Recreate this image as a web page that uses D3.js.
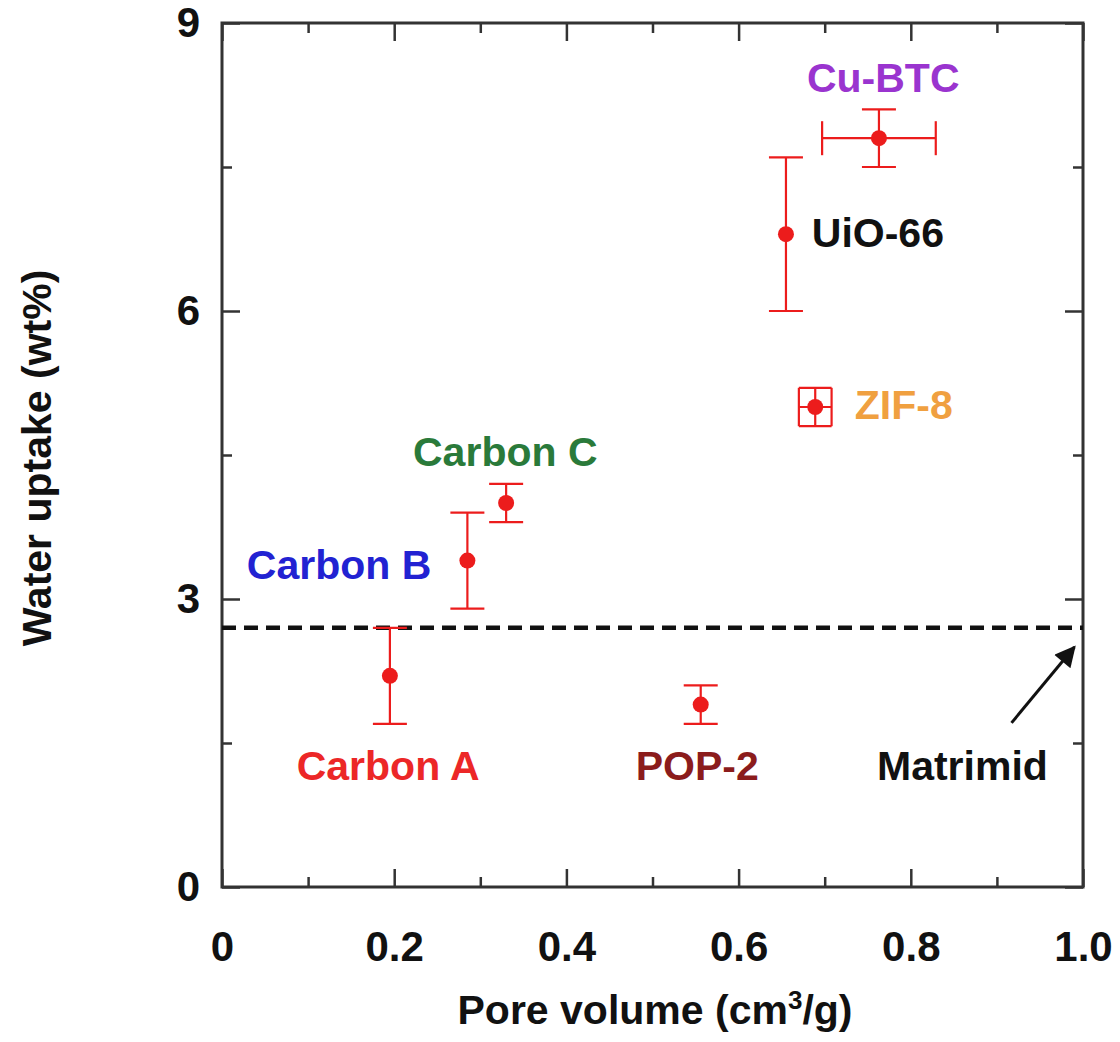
<!DOCTYPE html>
<html lang="en">
<head>
    <meta charset="UTF-8">
    <title>Water uptake vs pore volume</title>
    <script src="https://d3js.org/d3.v7.min.js"></script>
    <style>
        body { margin: 0; background: #fff; }
        text { font-family: "Liberation Sans", Arial, sans-serif; font-weight: bold; }
    </style>
</head>
<body>
    <svg width="1120" height="1042"></svg>

    <script>
        // data
        const materials   = ["Carbon A", "Carbon B", "Carbon C", "POP-2", "UiO-66", "ZIF-8", "Cu-BTC"];
        const poreVolume  = [0.195, 0.285, 0.33, 0.556, 0.655, 0.689, 0.763];
        const waterUptake = [2.2, 3.4, 4.0, 1.9, 6.8, 5.0, 7.8];
        const uptakeErr   = [0.5, 0.5, 0.2, 0.2, 0.8, 0.2, 0.3];
        const volumeErr   = [0, 0, 0, 0, 0, 0.019, 0.066];

        const matrimidUptake = 2.7;

        // annotation labels (data coordinates)
        const labelText   = ["Carbon A", "Carbon B", "Carbon C", "POP-2", "UiO-66", "ZIF-8", "Cu-BTC", "Matrimid"];
        const labelX      = [0.193, 0.136, 0.329, 0.552, 0.685, 0.735, 0.768, 0.86];
        const labelY      = [1.27, 3.36, 4.54, 1.27, 6.82, 5.03, 8.44, 1.27];
        const labelAnchor = ["middle", "middle", "middle", "middle", "start", "start", "middle", "middle"];
        const labelColor  = ["#ec2727", "#2222d2", "#2a7a3a", "#8b1c1c", "#111111", "#f0a040", "#9a34cf", "#111111"];

        const arrowFrom = [0.917, 1.71];
        const arrowTo   = [0.99, 2.5];

        const xMajor = [0, 0.2, 0.4, 0.6, 0.8, 1.0];
        const xMinor = [0.1, 0.3, 0.5, 0.7, 0.9];
        const yMajor = [0, 3, 6, 9];
        const yMinor = [1.5, 4.5, 7.5];

        const width = 1120;
        const height = 1042;
        const margin = {top: 23, right: 37, bottom: 155, left: 222};

        const svg = d3.select("svg");

        const x = d3.scaleLinear().domain([0, 1.0]).range([margin.left, width - margin.right]);
        const y = d3.scaleLinear().domain([0, 9]).range([height - margin.bottom, margin.top]);

        const axisColor = "#333";
        const fmtX = d => d === 0 ? "0" : d3.format(".1f")(d);

        // bottom axis (ticks point inward)
        const gBottom = svg.append("g").attr("transform", `translate(0,${y(0)})`);
        gBottom.call(d3.axisBottom(x).tickValues(xMajor).tickSize(-18).tickPadding(44).tickFormat(fmtX));
        gBottom.append("g").call(d3.axisBottom(x).tickValues(xMinor).tickSize(-10).tickFormat(""));

        // top axis
        const gTop = svg.append("g").attr("transform", `translate(0,${y(9)})`);
        gTop.call(d3.axisTop(x).tickValues(xMajor).tickSize(-18).tickFormat(""));
        gTop.append("g").call(d3.axisTop(x).tickValues(xMinor).tickSize(-10).tickFormat(""));

        // left axis
        const gLeft = svg.append("g").attr("transform", `translate(${x(0)},0)`);
        gLeft.call(d3.axisLeft(y).tickValues(yMajor).tickSize(-18).tickPadding(22).tickFormat(d3.format("d")));
        gLeft.append("g").call(d3.axisLeft(y).tickValues(yMinor).tickSize(-10).tickFormat(""));

        // right axis
        const gRight = svg.append("g").attr("transform", `translate(${x(1)},0)`);
        gRight.call(d3.axisRight(y).tickValues(yMajor).tickSize(-18).tickFormat(""));
        gRight.append("g").call(d3.axisRight(y).tickValues(yMinor).tickSize(-10).tickFormat(""));

        svg.selectAll(".domain").remove();
        svg.selectAll(".tick line").attr("stroke", axisColor).attr("stroke-width", 2.5);
        svg.selectAll(".tick text")
            .attr("fill", "#111")
            .style("font-size", "42px")
            .style("font-family", "'Liberation Sans', Arial, sans-serif")
            .style("font-weight", "bold");

        // frame
        svg.append("rect")
            .attr("x", x(0))
            .attr("y", y(9))
            .attr("width", x(1) - x(0))
            .attr("height", y(0) - y(9))
            .attr("fill", "none")
            .attr("stroke", axisColor)
            .attr("stroke-width", 3);

        // axis titles
        const xTitle = svg.append("text")
            .attr("text-anchor", "middle")
            .attr("x", 655)
            .attr("y", 1024)
            .style("font-size", "41px")
            .attr("fill", "#111");
        xTitle.append("tspan").text("Pore volume (cm");
        xTitle.append("tspan").text("3").attr("dy", -15).style("font-size", "26px");
        xTitle.append("tspan").text("/g)").attr("dy", 15);

        svg.append("text")
            .attr("text-anchor", "middle")
            .attr("transform", `translate(51,${458}) rotate(-90)`)
            .style("font-size", "41px")
            .attr("fill", "#111")
            .text("Water uptake (wt%)");

        // Matrimid reference line
        svg.append("line")
            .attr("x1", x(0))
            .attr("x2", x(1))
            .attr("y1", y(matrimidUptake))
            .attr("y2", y(matrimidUptake))
            .attr("stroke", "#111")
            .attr("stroke-width", 4.5)
            .attr("stroke-dasharray", "14,8");

        // arrow
        svg.append("defs").append("marker")
            .attr("id", "arrowhead")
            .attr("viewBox", "0 0 10 10")
            .attr("refX", 9)
            .attr("refY", 5)
            .attr("markerWidth", 9)
            .attr("markerHeight", 7)
            .attr("markerUnits", "strokeWidth")
            .attr("orient", "auto")
            .append("path")
            .attr("d", "M0,0 L10,5 L0,10 Z")
            .attr("fill", "#111");

        svg.append("line")
            .attr("x1", x(arrowFrom[0]))
            .attr("y1", y(arrowFrom[1]))
            .attr("x2", x(arrowTo[0]))
            .attr("y2", y(arrowTo[1]))
            .attr("stroke", "#111")
            .attr("stroke-width", 3)
            .attr("marker-end", "url(#arrowhead)");

        // error bars and points
        const points = materials.map((m, i) => ({
            name: m, x: poreVolume[i], y: waterUptake[i], ey: uptakeErr[i], ex: volumeErr[i]
        }));

        const red = "#ec1c1c";
        const capHalf = 17;
        const gPts = svg.append("g");

        points.forEach(p => {
            const g = gPts.append("g").attr("stroke", red).attr("stroke-width", 2.2);
            const cx = x(p.x), cy = y(p.y);
            const yTop = y(p.y + p.ey), yBot = y(p.y - p.ey);
            const hw = p.name === "ZIF-8" ? x(p.x + p.ex) - cx : capHalf;
            g.append("line").attr("x1", cx).attr("x2", cx).attr("y1", yTop).attr("y2", yBot);
            g.append("line").attr("x1", cx - hw).attr("x2", cx + hw).attr("y1", yTop).attr("y2", yTop);
            g.append("line").attr("x1", cx - hw).attr("x2", cx + hw).attr("y1", yBot).attr("y2", yBot);
            if (p.ex > 0) {
                const xl = x(p.x - p.ex), xr = x(p.x + p.ex);
                const hh = p.name === "ZIF-8" ? cy - yTop : capHalf;
                g.append("line").attr("x1", xl).attr("x2", xr).attr("y1", cy).attr("y2", cy);
                g.append("line").attr("x1", xl).attr("x2", xl).attr("y1", cy - hh).attr("y2", cy + hh);
                g.append("line").attr("x1", xr).attr("x2", xr).attr("y1", cy - hh).attr("y2", cy + hh);
            }
        });

        gPts.selectAll("circle")
            .data(points)
            .enter()
            .append("circle")
            .attr("cx", d => x(d.x))
            .attr("cy", d => y(d.y))
            .attr("r", 8)
            .attr("fill", red);

        // labels
        svg.append("g")
            .selectAll("text")
            .data(labelText)
            .enter()
            .append("text")
            .attr("x", (d, i) => x(labelX[i]))
            .attr("y", (d, i) => y(labelY[i]))
            .attr("dy", "0.36em")
            .attr("text-anchor", (d, i) => labelAnchor[i])
            .attr("fill", (d, i) => labelColor[i])
            .style("font-size", "41px")
            .text(d => d);
    </script>
</body>
</html>
